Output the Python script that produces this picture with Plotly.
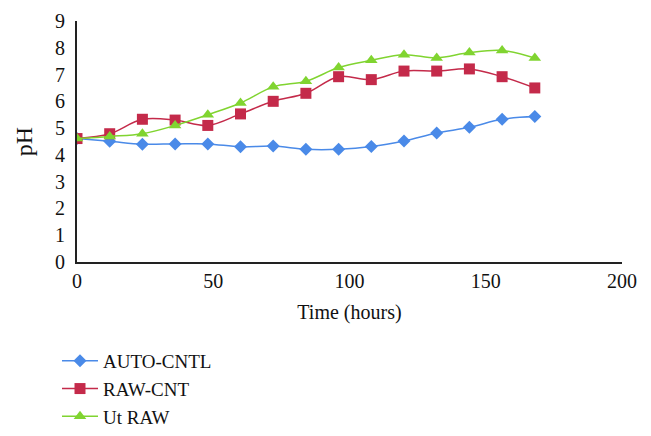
import plotly.graph_objects as go

hours = [0, 12, 24, 36, 48, 60, 72, 84, 96, 108, 120, 132, 144, 156, 168]
auto_cntl = [4.61, 4.51, 4.40, 4.41, 4.41, 4.30, 4.33, 4.21, 4.21, 4.31, 4.52, 4.82, 5.03, 5.33, 5.43]
raw_cnt = [4.61, 4.79, 5.33, 5.30, 5.10, 5.53, 6.00, 6.30, 6.92, 6.81, 7.13, 7.13, 7.21, 6.92, 6.50]
ut_raw = [4.61, 4.69, 4.79, 5.10, 5.50, 5.94, 6.54, 6.75, 7.26, 7.53, 7.74, 7.62, 7.82, 7.90, 7.62]

FONT = "Liberation Serif, DejaVu Serif, serif"

fig = go.Figure()
fig.add_trace(go.Scatter(x=hours, y=auto_cntl, name="AUTO-CNTL", mode="lines+markers",
                         line=dict(color="#4a8ae8", width=1.5, shape="spline"),
                         marker=dict(symbol="diamond", size=10, color="#4a8ae8")))
fig.add_trace(go.Scatter(x=hours, y=raw_cnt, name="RAW-CNT", mode="lines+markers",
                         line=dict(color="#c42a4a", width=1.5, shape="spline"),
                         marker=dict(symbol="square", size=11, color="#c42a4a")))
fig.add_trace(go.Scatter(x=hours, y=ut_raw, name="Ut RAW", mode="lines+markers",
                         line=dict(color="#80d430", width=1.5, shape="spline"),
                         marker=dict(symbol="triangle-up", size=11, color="#80d430")))

# page has an 8px body margin, so the figure is sized to fit the window
fig.update_layout(
    width=643, height=428,
    margin=dict(l=69, r=29, t=13, b=174),
    paper_bgcolor="white", plot_bgcolor="white",
    font=dict(family=FONT, size=19, color="#111"),
    showlegend=True,
    legend=dict(xref="paper", yref="container", x=-0.0367, y=0.2196,
                xanchor="left", yanchor="top",
                orientation="v", font=dict(family=FONT, size=19, color="#111"),
                tracegroupgap=0, itemwidth=36, bgcolor="rgba(0,0,0,0)"),
    xaxis=dict(range=[0, 200], tickvals=[0, 50, 100, 150, 200], showgrid=False,
               zeroline=False, showline=True, linecolor="#222", linewidth=2,
               ticks="", ticklen=0, automargin=False,
               tickfont=dict(family=FONT, size=20, color="#111"),
               title=dict(text="Time (hours)", font=dict(family=FONT, size=20), standoff=14)),
    yaxis=dict(range=[0, 9], dtick=1, showgrid=False, zeroline=False,
               showline=True, linecolor="#222", linewidth=2, ticks="", automargin=False,
               ticklabelstandoff=6,
               tickfont=dict(family=FONT, size=20, color="#111"),
               title=dict(text="pH", font=dict(family=FONT, size=24), standoff=16)),
)

fig.write_html("out.html")
